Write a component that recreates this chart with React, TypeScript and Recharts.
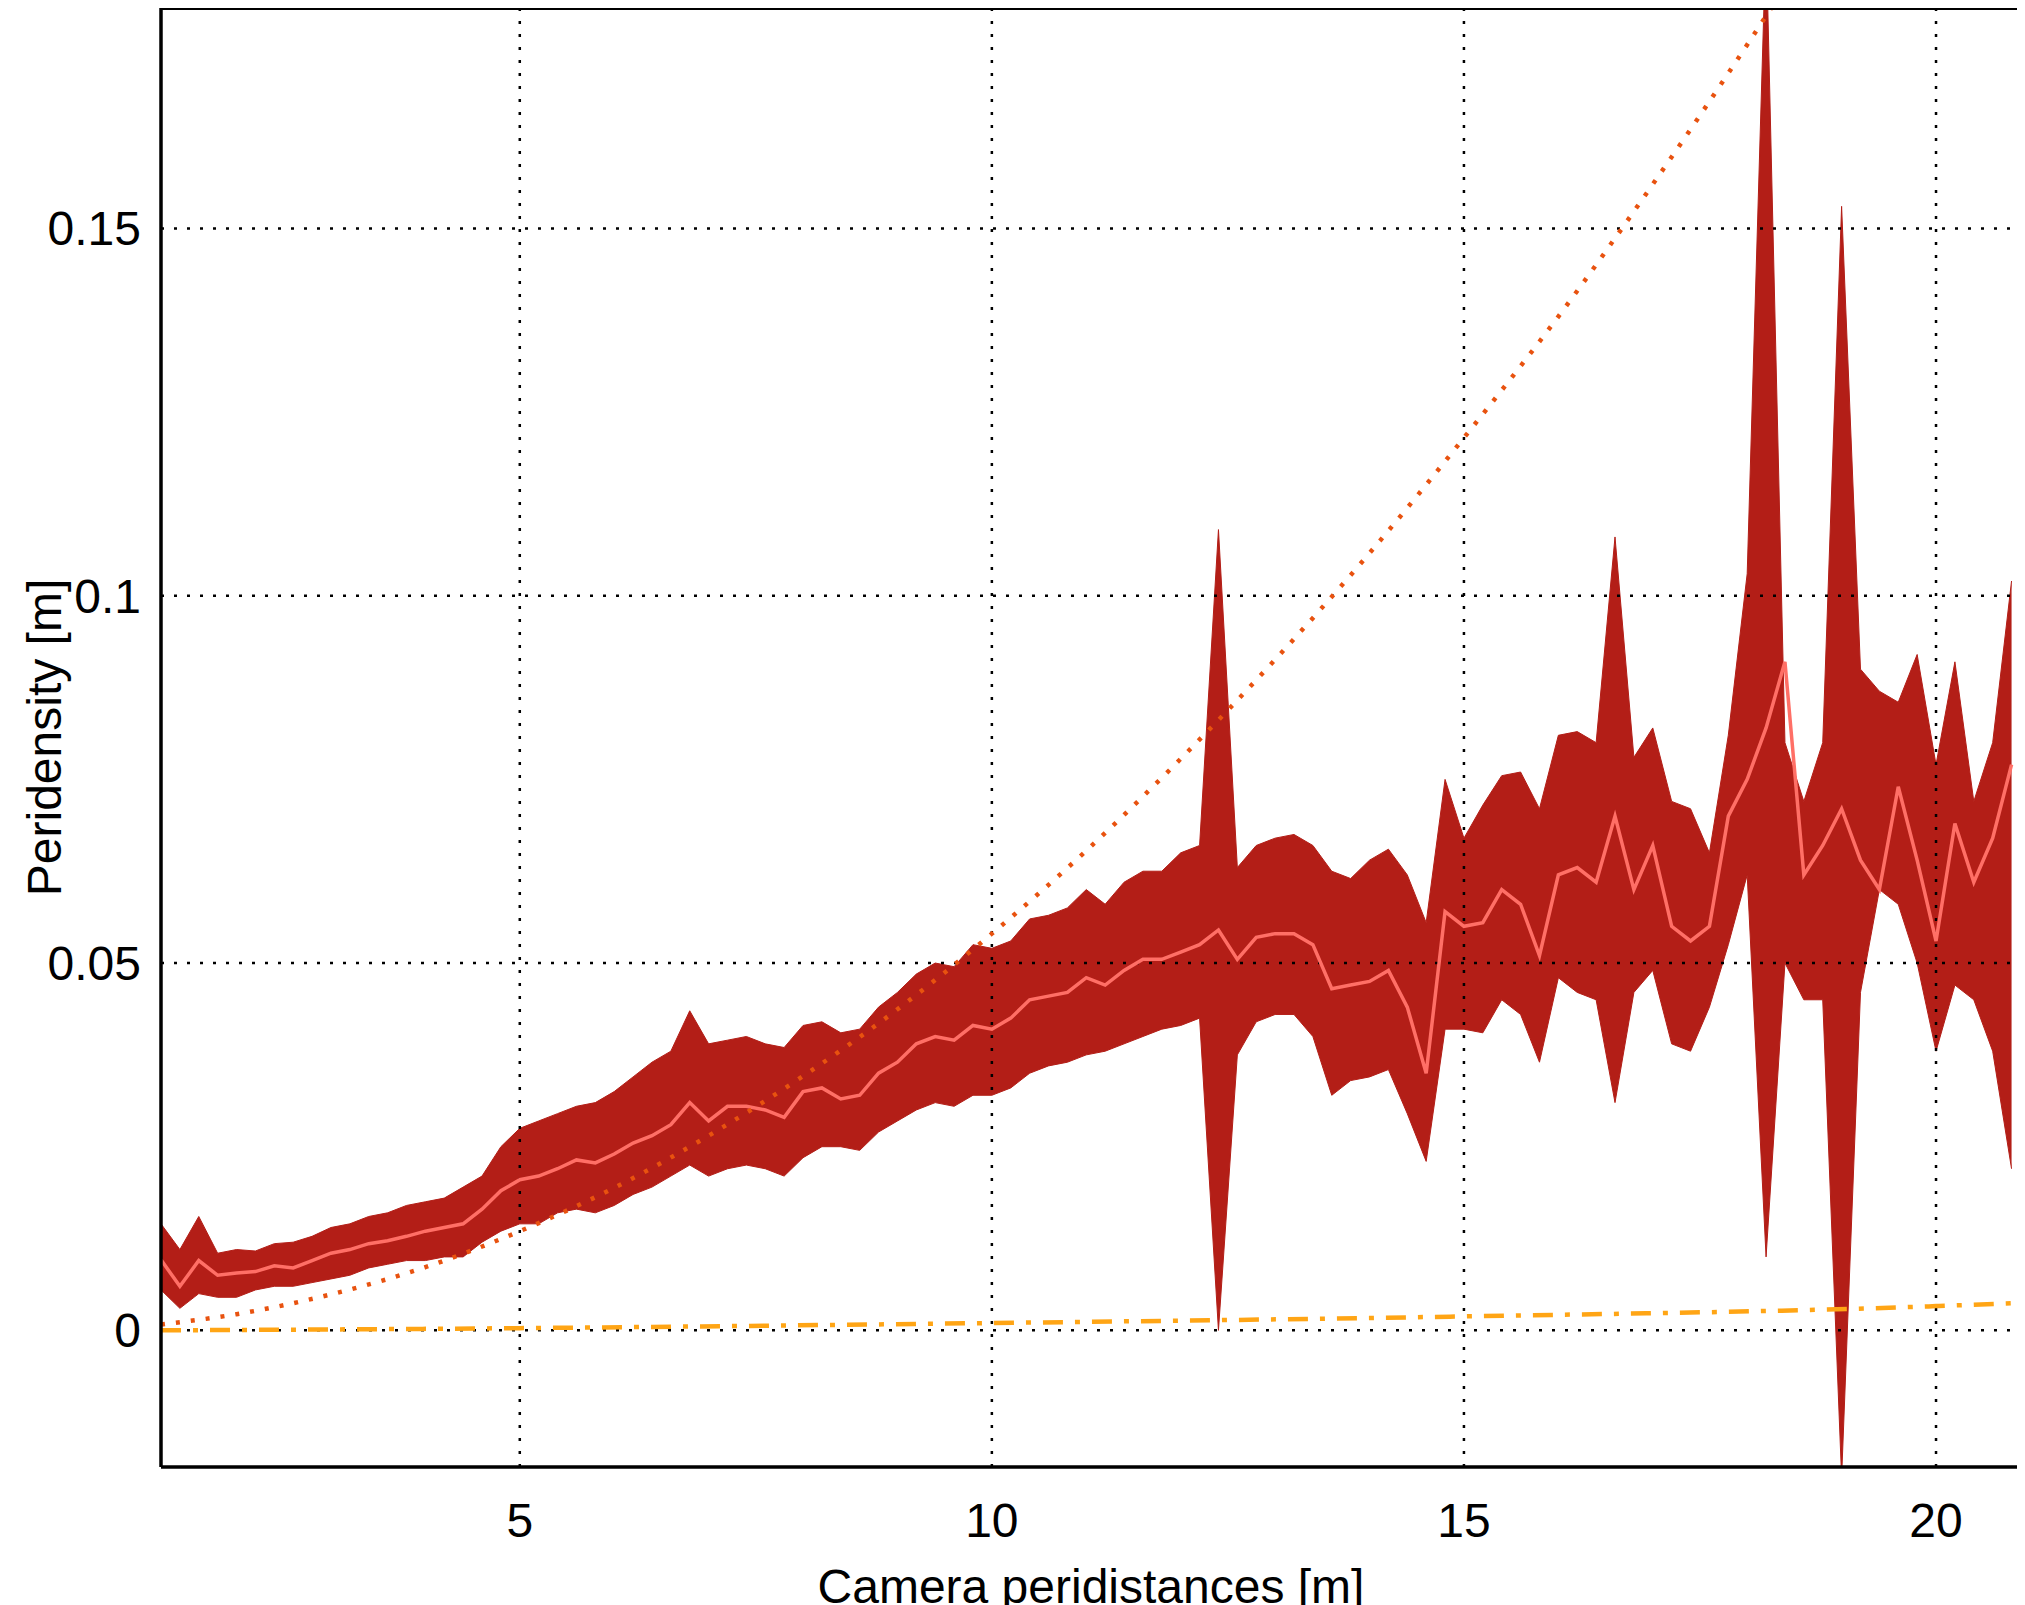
import React from 'react';
import {
  ComposedChart, Area, Line, XAxis, YAxis, Label, ReferenceLine,
} from 'recharts';

// distances sampled every 0.2 m from 1.2 to 20.8
const distances = Array.from({ length: 99 }, (_, i) => Math.round((1.2 + 0.2 * i) * 10) / 10);

const meanDensity = [
  0.0096, 0.006, 0.0095, 0.0075, 0.0078, 0.008, 0.0088, 0.0085, 0.0095, 0.0105,
  0.011, 0.0118, 0.0122, 0.0128, 0.0135, 0.014, 0.0145, 0.0165, 0.019, 0.0205,
  0.021, 0.022, 0.0232, 0.0228, 0.024, 0.0255, 0.0265, 0.028, 0.031, 0.0285,
  0.0305, 0.0305, 0.03, 0.029, 0.0325, 0.033, 0.0315, 0.032, 0.035, 0.0365,
  0.039, 0.04, 0.0395, 0.0415, 0.041, 0.0425, 0.045, 0.0455, 0.046, 0.048,
  0.047, 0.049, 0.0505, 0.0505, 0.0515, 0.0525, 0.0545, 0.0505, 0.0535, 0.054,
  0.054, 0.0525, 0.0465, 0.047, 0.0475, 0.049, 0.044, 0.035, 0.057, 0.055,
  0.0555, 0.06, 0.058, 0.051, 0.062, 0.063, 0.061, 0.07, 0.06, 0.066,
  0.055, 0.053, 0.055, 0.07, 0.075, 0.082, 0.091, 0.062, 0.066, 0.071,
  0.064, 0.06, 0.074, 0.064, 0.053, 0.069, 0.061, 0.067, 0.077,
];

const upperDensity = [
  0.0145, 0.011, 0.0155, 0.0105, 0.011, 0.0108, 0.0118, 0.012, 0.0128, 0.014,
  0.0145, 0.0155, 0.016, 0.017, 0.0175, 0.018, 0.0195, 0.021, 0.025, 0.0275,
  0.0285, 0.0295, 0.0305, 0.031, 0.0325, 0.0345, 0.0365, 0.038, 0.0435, 0.039,
  0.0395, 0.04, 0.039, 0.0385, 0.0415, 0.042, 0.0405, 0.041, 0.044, 0.046,
  0.0485, 0.05, 0.0495, 0.0525, 0.052, 0.053, 0.056, 0.0565, 0.0575, 0.06,
  0.058, 0.061, 0.0625, 0.0625, 0.065, 0.066, 0.109, 0.063, 0.066, 0.067,
  0.0675, 0.066, 0.0625, 0.0615, 0.064, 0.0655, 0.062, 0.0555, 0.075, 0.067,
  0.0715, 0.0755, 0.076, 0.071, 0.081, 0.0815, 0.08, 0.108, 0.078, 0.082,
  0.072, 0.071, 0.065, 0.081, 0.103, 0.19, 0.08, 0.072, 0.08, 0.153,
  0.09, 0.087, 0.0855, 0.092, 0.077, 0.091, 0.072, 0.08, 0.102,
];

const lowerDensity = [
  0.0055, 0.003, 0.005, 0.0045, 0.0045, 0.0055, 0.006, 0.006, 0.0065, 0.007,
  0.0075, 0.0085, 0.009, 0.0095, 0.0095, 0.01, 0.01, 0.012, 0.0135, 0.0145,
  0.0145, 0.016, 0.0165, 0.016, 0.017, 0.0185, 0.0195, 0.021, 0.0225, 0.021,
  0.022, 0.0225, 0.022, 0.021, 0.0235, 0.025, 0.025, 0.0245, 0.027, 0.0285,
  0.03, 0.031, 0.0305, 0.032, 0.032, 0.033, 0.035, 0.036, 0.0365, 0.0375,
  0.038, 0.039, 0.04, 0.041, 0.0415, 0.0425, 0.0, 0.0375, 0.042, 0.043,
  0.043, 0.04, 0.032, 0.034, 0.0345, 0.0355, 0.0295, 0.023, 0.041, 0.041,
  0.0405, 0.045, 0.043, 0.0365, 0.048, 0.046, 0.045, 0.031, 0.046, 0.049,
  0.039, 0.038, 0.044, 0.0525, 0.062, 0.01, 0.05, 0.045, 0.045, -0.02,
  0.046, 0.06, 0.058, 0.05, 0.038, 0.047, 0.045, 0.038, 0.022,
];

// theoretical model (dotted) and noise floor (dash-dot), read at a few distances
const modelX = [1.2, 2, 3, 4, 5, 6, 7, 8, 9, 10, 11, 12, 13, 14, 15, 16, 17, 18, 19];
const modelY = [0.0008, 0.0022, 0.0049, 0.0086, 0.0135, 0.0194, 0.0265, 0.0346, 0.0437, 0.054,
  0.0653, 0.0778, 0.0913, 0.1058, 0.1215, 0.138, 0.156, 0.175, 0.195];
const floorX = [1.2, 5, 10, 15, 20, 20.8];
const floorY = [0.0, 0.0003, 0.001, 0.0019, 0.0033, 0.0037];

const xTicks = [5, 10, 15, 20];
const yTicks = [0, 0.05, 0.1, 0.15];
const xDomain = [1.2, 20.9];
const yDomain = [-0.0186, 0.18];

const data = distances.map((x, i) => {
  const m = modelX.indexOf(x);
  const f = floorX.indexOf(x);
  return {
    x,
    mean: meanDensity[i],
    band: [lowerDensity[i], upperDensity[i]],
    model: m >= 0 ? modelY[m] : null,
    floor: f >= 0 ? floorY[f] : null,
  };
});

const font = { fontFamily: 'Liberation Sans, Arial, sans-serif', fontSize: 48, fill: '#000' };

export default function App() {
  return (
    <ComposedChart
      width={2017}
      height={1597}
      data={data}
      margin={{ top: 0, right: 4, bottom: 0, left: 0 }}
    >
      {xTicks.map((t) => (
        <ReferenceLine key={'gx' + t} x={t} stroke="#000" strokeWidth={2.5} strokeDasharray="3 10" />
      ))}
      {yTicks.map((t) => (
        <ReferenceLine key={'gy' + t} y={t} stroke="#000" strokeWidth={2.5} strokeDasharray="3 10" />
      ))}
      <XAxis
        dataKey="x"
        type="number"
        domain={xDomain}
        ticks={xTicks}
        allowDataOverflow
        height={138}
        stroke="#000"
        strokeWidth={3.5}
        tickLine={false}
        tick={{ ...font, dy: 28 }}
      >
        <Label value="Camera peridistances [m]" position="insideBottom" offset={2} style={font} />
      </XAxis>
      <YAxis
        type="number"
        domain={yDomain}
        ticks={yTicks}
        allowDataOverflow
        width={153}
        stroke="#000"
        strokeWidth={3.5}
        tickLine={false}
        tick={{ ...font, dx: -12 }}
        tickFormatter={(v: number) => (v === 0 ? '0' : String(v))}
      >
        <Label value="Peridensity [m]" angle={-90} position="insideLeft" offset={36} style={{ ...font, textAnchor: 'middle' }} />
      </YAxis>
      <Area dataKey="band" type="linear" fill="#b31e17" fillOpacity={1}
        stroke="#b31e17" strokeWidth={1} isAnimationActive={false} />
      <Line dataKey="mean" type="linear" stroke="#ff6f66" strokeWidth={3.5}
        dot={false} isAnimationActive={false} />
      <Line dataKey="model" type="monotone" connectNulls stroke="#e8520f"
        strokeWidth={4.5} strokeDasharray="4 11" dot={false} isAnimationActive={false} />
      <Line dataKey="floor" type="monotone" connectNulls stroke="#ffa515"
        strokeWidth={4.5} strokeDasharray="20 12 5 12" dot={false} isAnimationActive={false} />
      <ReferenceLine y={yDomain[1]} stroke="#000" strokeWidth={4} />
      <ReferenceLine x={xDomain[1]} stroke="#000" strokeWidth={4} />
    </ComposedChart>
  );
}
